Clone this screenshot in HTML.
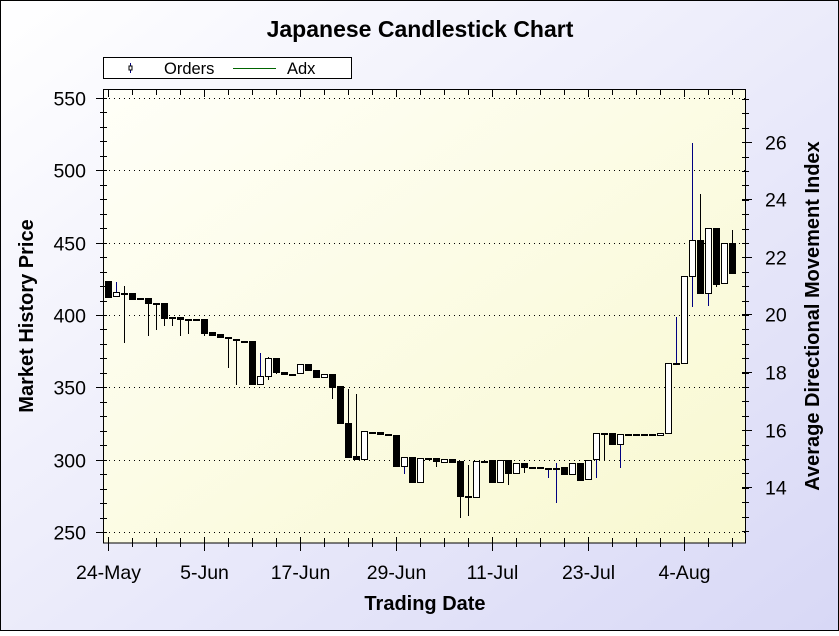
<!DOCTYPE html>
<html><head><meta charset="utf-8"><style>
html,body{margin:0;padding:0;}
body{width:839px;height:631px;overflow:hidden;}
</style></head><body>
<svg id="s" width="839" height="631" xmlns="http://www.w3.org/2000/svg" font-family="Liberation Sans, Arial, sans-serif">
<defs>
<linearGradient id="bg" x1="0" y1="0" x2="1" y2="1">
<stop offset="0" stop-color="#ffffff"/><stop offset="1" stop-color="#d8d8f6"/></linearGradient>
<linearGradient id="pa" x1="0" y1="0" x2="1" y2="1">
<stop offset="0" stop-color="#fffff8"/><stop offset="1" stop-color="#f8f8d0"/></linearGradient>
</defs>
<rect x="0.5" y="0.5" width="838" height="630" fill="url(#bg)" stroke="#000"/>
<rect x="103.5" y="89.5" width="642" height="453.5" fill="url(#pa)" stroke="#000"/>
<text x="420" y="37" text-anchor="middle" font-size="23" font-weight="bold">Japanese Candlestick Chart</text>
<rect x="103.5" y="57.5" width="248" height="21" fill="#fff" stroke="#000"/>
<line x1="130.5" y1="63" x2="130.5" y2="73" stroke="#000080"/>
<rect x="129" y="66" width="3" height="4" fill="#fff" stroke="#000"/>
<text x="164" y="74" font-size="16.5">Orders</text>
<line x1="233" y1="68.5" x2="276" y2="68.5" stroke="#006400"/>
<text x="287" y="74" font-size="16.5">Adx</text>
<text transform="translate(33,316) rotate(-90)" text-anchor="middle" font-size="20" font-weight="bold">Market History Price</text>
<text transform="translate(819,316) rotate(-90)" text-anchor="middle" font-size="20" font-weight="bold">Average Directional Movement Index</text>
<text x="425" y="610" text-anchor="middle" font-size="20" font-weight="bold">Trading Date</text>
<g id="g"></g>
</svg>
<script>
var g=document.getElementById('g'),h='';
function L(x1,y1,x2,y2,c,d){h+='<line x1="'+x1+'" y1="'+y1+'" x2="'+x2+'" y2="'+y2+'" stroke="'+(c||'#000')+'"'+(d?' stroke-dasharray="'+d+'"':'')+'/>';}
var prices=[550,500,450,400,350,300,250];
prices.forEach(function(p){var y=Math.round(532-(p-250)*1.4467)+0.5;
 L(104,y,745,y,'#000','1,4');L(96,y,104,y);
 h+='<text x="86" y="'+(y+7)+'" text-anchor="end" font-size="19.5">'+p+'</text>';});
for(var p=250;p<=550;p+=10){var y=Math.round(532-(p-250)*1.4467)+0.5;L(100,y,107,y);}
var r=[[26,142],[24,199],[22,257],[20,314],[18,372],[16,430],[14,487]];
r.forEach(function(a){var y=a[1]+0.5;L(742,y,752,y);h+='<text x="765" y="'+(y+7)+'" font-size="19.5">'+a[0]+'</text>';});
for(var y=99;y<540;y+=14.4){var yy=Math.round(y)+0.5;L(742,yy,749,yy);}
var dl=['24-May','5-Jun','17-Jun','29-Jun','11-Jul','23-Jul','4-Aug'];
for(var i=0;i<28;i++){var x=108+24*i+0.5;if(x>745)break;
 if(i%4==0){L(x,537,x,551);h+='<text x="'+x+'" y="579" text-anchor="middle" font-size="19.5">'+dl[i/4]+'</text>';L(x,90,x,97);}
 else{L(x,538,x,547);L(x,90,x,95);}}
var c=[
['b',281,297],['w',292,296,282,296,'#000080'],['d',293,293,286,343],['b',293,299],['d',298,298],
['b',298,303,298,336],['d',303,303,303,330],['b',303,318,303,326],['d',317,317,317,326],['b',317,319,317,336],
['d',319,319,319,334],['d',319,319],['b',319,333,319,336],['b',332,335],['b',334,337],
['d',337,337,337,368],['d',339,339,339,385],['d',341,341],['b',341,384],['w',376,384,353,384,'#000080'],
['w',358,376,357,380],['b',358,372,358,374],['b',372,374],['d',374,374],['w',364,373],
['b',364,370],['b',370,377],['w',374,377],['b',374,387,374,399],['b',386,423],
['b',423,457,389,457],['b',456,459,394,459],['w',431,459],['d',432,432],['b',432,434],
['d',434,434],['b',435,466],['w',457,466,457,474,'#000080'],['b',457,482],['w',458,482],
['d',458,458],['b',458,461,458,467],['w',459,462],['b',459,462],['b',461,496,461,518],
['d',496,496,465,516],['w',461,497],['d',461,461],['b',460,482],['w',460,482],
['b',460,473,460,485],['w',463,473],['b',463,467,463,473],['d',467,467],['d',467,467],
['d',468,468,468,478,'#000080'],['d',468,468,463,503,'#000080'],['b',467,474],['w',463,474],['b',463,480],
['w',460,479],['w',433,459,433,478,'#000080'],['d',433,433,433,460],['b',433,444],['w',434,444,434,468,'#000080'],
['d',434,434],['d',434,434],['d',434,434],['d',434,434],['w',433,435],
['w',363,433],['d',363,363,317,363,'#000080'],['w',276,363],['w',240,276,143,307,'#000080'],['b',240,293,194,293],
['w',228,293,228,306,'#000080'],['b',228,284,228,287],['w',243,283],['b',243,273,230,273]];
c.forEach(function(a,i){var x=108+8*i;
 if(a[3]!==undefined)L(x+0.5,a[3],x+0.5,a[4],a[5]||'#000');
 if(a[0]=='b')h+='<rect x="'+(x-3)+'" y="'+a[1]+'" width="7" height="'+(a[2]-a[1]+1)+'" fill="#000"/>';
 else if(a[0]=='w')h+='<rect x="'+(x-2.5)+'" y="'+(a[1]+0.5)+'" width="6" height="'+Math.max(a[2]-a[1],2)+'" fill="#fff" stroke="#000"/>';
 else h+='<rect x="'+(x-3)+'" y="'+a[1]+'" width="7" height="2" fill="#000"/>';});
g.innerHTML=h;
</script>
</body></html>
